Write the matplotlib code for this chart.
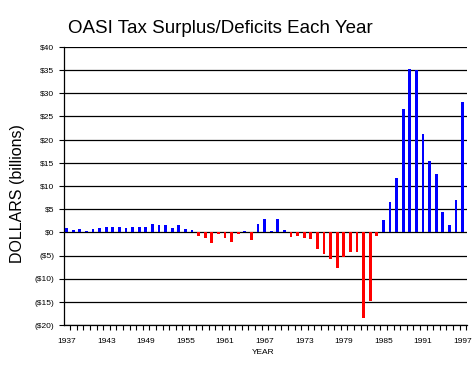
import matplotlib
matplotlib.use("Agg")
import matplotlib.pyplot as plt
from matplotlib.ticker import FixedLocator

years = list(range(1937, 1998))
surplus = [
    0.93, 0.50, 0.72, 0.29, 0.72, 0.93, 1.15, 1.15, 1.15, 0.93,   # 1937-1946
    1.15, 1.15, 1.15, 1.79, 1.58, 1.58, 0.93, 1.58, 0.72, 0.50,   # 1947-1956
    -0.72, -1.15, -2.30, -0.29, -1.15, -2.00, -0.29, 0.29, -1.58, 1.79,  # 1957-1966
    2.87, 0.29, 2.87, 0.50, -0.93, -0.72, -1.15, -1.36, -3.50, -4.60,   # 1967-1976
    -5.67, -7.60, -5.24, -4.16, -4.16, -18.4, -14.8, -0.72, 2.60, 6.50,  # 1977-1986
    11.8, 26.5, 35.3, 35.0, 21.1, 15.3, 12.5, 4.3, 1.5, 6.9,      # 1987-1996
    28.0,                                                          # 1997
]
label_years = [1937, 1943, 1949, 1955, 1961, 1967, 1973, 1979, 1985, 1991, 1997]
y_ticks = [-20, -15, -10, -5, 0, 5, 10, 15, 20, 25, 30, 35, 40]


def money(v):
    return f"(${-v})" if v < 0 else f"${v}"


small = ["Liberation Sans", "DejaVu Sans"]

fig = plt.figure(figsize=(4.75, 3.75), dpi=100)
ax = fig.add_axes([0.1354, 0.1325, 0.8472, 0.743])

idx = list(range(len(years)))
colors = ["#0000ff" if v >= 0 else "#ff0000" for v in surplus]
ax.bar(idx, surplus, width=0.41, color=colors, zorder=3, linewidth=0)

ax.set_xlim(-0.35, 60.62)
ax.set_ylim(-20, 40)

ax.set_yticks(y_ticks)
ax.set_yticklabels([money(v) for v in y_ticks], fontsize=6, family=small)
ax.yaxis.grid(True, color="black", linewidth=0.9)
ax.set_axisbelow(True)

ax.set_xticks([years.index(y) for y in label_years])
ax.set_xticklabels([str(y) for y in label_years], fontsize=6, family=small)
ax.xaxis.set_minor_locator(FixedLocator([i + 0.55 for i in idx]))

ax.tick_params(axis="y", direction="out", length=3.6, width=0.8, pad=3.6, colors="black")
ax.tick_params(axis="x", which="major", length=0, pad=9)
ax.tick_params(axis="x", which="minor", direction="out", length=3.6, width=0.8)

for s in ["top", "right"]:
    ax.spines[s].set_visible(False)
for s in ["left", "bottom"]:
    ax.spines[s].set_linewidth(0.9)
    ax.spines[s].set_color("black")

ax.text(-0.1175, 0.473, "DOLLARS (billions)", transform=ax.transAxes,
        rotation=90, ha="center", va="center", fontsize=11.5,
        family=small)

fig.text(263 / 475, 1 - 353 / 375, "YEAR", ha="center", va="center",
         fontsize=6, family=small)

fig.text(68.3 / 475, 1 - 33.3 / 375, "OASI Tax Surplus/Deficits Each Year",
         ha="left", va="baseline", fontsize=13.5, family=small)

fig.savefig("out.png", dpi=100)
